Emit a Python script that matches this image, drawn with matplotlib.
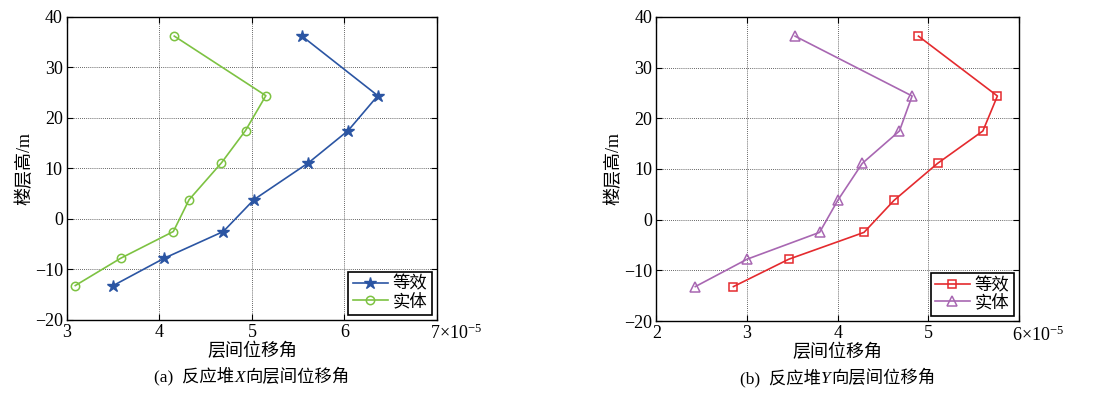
import numpy as np
import matplotlib
matplotlib.use('Agg')
import matplotlib.pyplot as plt
from matplotlib.offsetbox import TextArea, HPacker, AnchoredOffsetbox

# Fuentes: numeros en serif, chino con Noto CJK
FAMILIA = ['Liberation Serif', 'Noto Sans CJK SC']
plt.rcParams['font.family'] = FAMILIA
plt.rcParams['mathtext.fontset'] = 'custom'
plt.rcParams['mathtext.rm'] = 'Liberation Serif'
plt.rcParams['mathtext.it'] = 'Liberation Serif:italic'

# Alturas de piso (m)
altura = [36.2, 24.4, 17.5, 11.1, 3.8, -2.5, -7.8, -13.2]

# Angulo de deriva (unidades de 1e-5), direccion X
x_equiv = [5.54, 6.36, 6.04, 5.61, 5.02, 4.69, 4.05, 3.50]
x_solido = [4.16, 5.15, 4.93, 4.67, 4.32, 4.15, 3.58, 3.09]

# Direccion Y
y_equiv = [4.89, 5.76, 5.60, 5.10, 4.62, 4.29, 3.46, 2.85]
y_solido = [3.53, 4.82, 4.68, 4.27, 4.00, 3.80, 3.00, 2.43]

etiquetas = ['等效', '实体']
ticks_a = [3, 4, 5, 6, 7]
ticks_b = [2, 3, 4, 5, 6]
yticks = [-20, -10, 0, 10, 20, 30, 40]

fig = plt.figure(figsize=(11.03, 3.93), dpi=100)
ax1 = fig.add_axes([0.0607, 0.186, 0.3355, 0.771])
ax2 = fig.add_axes([0.595, 0.183, 0.329, 0.774])


def armar(ax, s1, s2, est1, est2, xt, letra, eje):
    ax.plot(s1, altura, label=etiquetas[0], **est1)
    ax.plot(s2, altura, label=etiquetas[1], **est2)
    ax.set_xlim(xt[0], xt[-1])
    ax.set_ylim(-20, 40)
    ax.set_xticks(xt)
    ax.set_xticklabels([str(v) for v in xt[:-1]] + [''])
    ax.set_yticks(yticks)
    ax.tick_params(direction='in', top=True, right=True, labelsize=13,
                   length=4, width=0.8, pad=3)
    ax.grid(True, color='#333333', linestyle=(0, (1, 1.5)), linewidth=0.6)
    for s in ax.spines.values():
        s.set_linewidth(1.0)
    ax.annotate(str(xt[-1]) + '×10$^{-5}$', xy=(xt[-1], -20),
                xycoords='data', xytext=(-5, -3), textcoords='offset points',
                ha='left', va='top', fontsize=13)
    ax.set_xlabel('层间位移角', fontsize=13, labelpad=1)
    ax.set_ylabel('楼层高/m', fontsize=13, labelpad=1)

    # pie de figura: (a) 反应堆X向层间位移角, con X en cursiva
    props = dict(fontsize=12.5, family=FAMILIA)
    partes = [TextArea('(' + letra + ')  反应堆', textprops=props),
              TextArea(eje, textprops=dict(props, style='italic')),
              TextArea('向层间位移角', textprops=props)]
    caja = HPacker(children=partes, align='baseline', pad=0, sep=0)
    anc = AnchoredOffsetbox(loc='upper center', child=caja, frameon=False,
                            bbox_to_anchor=(0.5, -0.155),
                            bbox_transform=ax.transAxes, borderpad=0, pad=0)
    ax.add_artist(anc)

    leg = ax.legend(loc='lower right', fontsize=12.5, fancybox=False,
                    framealpha=1, edgecolor='black', borderpad=0.25,
                    handlelength=2.0, handletextpad=0.3, labelspacing=0.05,
                    borderaxespad=0.3)
    leg.get_frame().set_linewidth(1.2)


azul = '#2b55a3'
verde = '#7dc242'
rojo = '#e42a2e'
morado = '#a867b2'

armar(ax1, x_equiv, x_solido,
      dict(color=azul, lw=1.2, marker='*', ms=9),
      dict(color=verde, lw=1.2, marker='o', ms=6, mfc='none', mew=1.1),
      ticks_a, 'a', 'X')
armar(ax2, y_equiv, y_solido,
      dict(color=rojo, lw=1.2, marker='s', ms=6, mfc='none', mew=1.1),
      dict(color=morado, lw=1.2, marker='^', ms=7, mfc='none', mew=1.1),
      ticks_b, 'b', 'Y')

fig.savefig('out.png', dpi=100)
